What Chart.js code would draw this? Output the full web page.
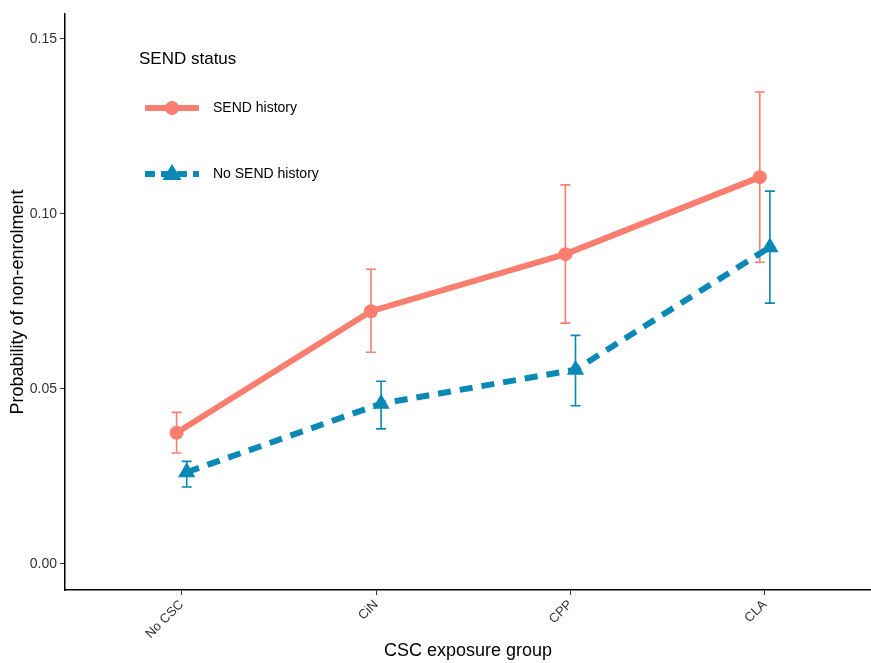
<!DOCTYPE html>
<html>
<head>
<meta charset="utf-8">
<script src="https://cdn.jsdelivr.net/npm/chart.js@4"></script>
<style>
  html, body { margin: 0; padding: 0; background: #fff; }
  #wrap { width: 871px; height: 663px; }
</style>
</head>
<body>
<div id="wrap"><canvas id="chart" width="871" height="663"></canvas></div>
<script>
const groups = ['No CSC', 'CiN', 'CPP', 'CLA'];

// SEND history: estimate + 95% CI
const sendMean = [0.0375, 0.0722, 0.0885, 0.1105];
const sendLow  = [0.0317, 0.0605, 0.0688, 0.0862];
const sendHigh = [0.0433, 0.0842, 0.1083, 0.1348];

// No SEND history
const noSendMean = [0.0262, 0.0458, 0.0555, 0.0905];
const noSendLow  = [0.0220, 0.0386, 0.0452, 0.0745];
const noSendHigh = [0.0293, 0.0522, 0.0653, 0.1065];

const yTicks = [0, 0.05, 0.10, 0.15];

const pink = '#FA7E70';
const blue = '#0A88B6';
const dodge = 0.026;
const font = 'Arial, "Liberation Sans", sans-serif';

const toPoints = (vals, off) => vals.map((v, i) => ({ x: i + off, y: v }));

// error bars drawn with the chart scales
const errorBars = {
  id: 'errorBars',
  beforeDatasetsDraw(chart) {
    const { ctx, scales: { x, y } } = chart;
    const sets = [
      { low: sendLow, high: sendHigh, off: -dodge, color: pink },
      { low: noSendLow, high: noSendHigh, off: dodge, color: blue },
    ];
    ctx.save();
    ctx.lineWidth = 1.6;
    sets.forEach(s => {
      ctx.strokeStyle = s.color;
      s.low.forEach((lo, i) => {
        const px = x.getPixelForValue(i + s.off);
        const y1 = y.getPixelForValue(lo);
        const y2 = y.getPixelForValue(s.high[i]);
        ctx.beginPath();
        ctx.moveTo(px, y1); ctx.lineTo(px, y2);
        ctx.moveTo(px - 5, y1); ctx.lineTo(px + 5, y1);
        ctx.moveTo(px - 5, y2); ctx.lineTo(px + 5, y2);
        ctx.stroke();
      });
    });
    ctx.restore();
  }
};

// ggplot style legend inside the panel
const panelLegend = {
  id: 'panelLegend',
  afterDraw(chart) {
    const ctx = chart.ctx;
    ctx.save();
    ctx.fillStyle = '#000';
    ctx.font = '17px ' + font;
    ctx.textBaseline = 'middle';
    ctx.fillText('SEND status', 139, 59);

    ctx.font = '14px ' + font;
    // SEND history
    ctx.strokeStyle = pink;
    ctx.lineWidth = 6;
    ctx.beginPath(); ctx.moveTo(145, 108); ctx.lineTo(199, 108); ctx.stroke();
    ctx.fillStyle = pink;
    ctx.beginPath(); ctx.arc(172, 108, 7, 0, Math.PI * 2); ctx.fill();
    ctx.fillStyle = '#000';
    ctx.fillText('SEND history', 213, 108);

    // No SEND history
    ctx.strokeStyle = blue;
    ctx.lineWidth = 6;
    ctx.setLineDash([10, 6]);
    ctx.beginPath(); ctx.moveTo(145, 174); ctx.lineTo(199, 174); ctx.stroke();
    ctx.setLineDash([]);
    ctx.fillStyle = blue;
    ctx.beginPath();
    ctx.moveTo(172, 164); ctx.lineTo(181.5, 180); ctx.lineTo(162.5, 180); ctx.closePath();
    ctx.fill();
    ctx.fillStyle = '#000';
    ctx.fillText('No SEND history', 213, 174);
    ctx.restore();
  }
};

new Chart(document.getElementById('chart'), {
  type: 'line',
  data: {
    datasets: [
      {
        label: 'SEND history',
        data: toPoints(sendMean, -dodge),
        borderColor: pink,
        backgroundColor: pink,
        borderWidth: 6,
        pointStyle: 'circle',
        pointRadius: 7,
        pointBorderWidth: 0,
        pointHoverRadius: 7,
      },
      {
        label: 'No SEND history',
        data: toPoints(noSendMean, dodge),
        borderColor: blue,
        backgroundColor: blue,
        borderWidth: 6,
        borderDash: [13, 9],
        pointStyle: 'triangle',
        pointRadius: 10,
        pointBorderWidth: 0,
        pointHoverRadius: 10,
      },
    ],
  },
  options: {
    responsive: false,
    animation: false,
    layout: { autoPadding: false, padding: { top: 14, right: 0, left: 0, bottom: 0 } },
    plugins: {
      legend: { display: false },
      tooltip: { enabled: false },
    },
    scales: {
      x: {
        type: 'linear',
        min: -0.6,
        max: 3.546,
        afterFit: (s) => { s.height = 73; s.paddingLeft = 0; s.paddingRight = 0; },
        afterBuildTicks: (s) => { s.ticks = groups.map((g, i) => ({ value: i })); },
        ticks: {
          callback: (v) => groups[v],
          minRotation: 45,
          maxRotation: 45,
          color: '#333',
          padding: 2,
          font: { size: 13, family: font },
        },
        grid: { drawOnChartArea: false, drawTicks: true, tickLength: 5, color: '#333' },
        border: { display: true, color: '#000', width: 1.5 },
        title: {
          display: true,
          text: 'CSC exposure group',
          color: '#000',
          padding: { top: 0, bottom: 1 },
          font: { size: 18, family: font },
        },
      },
      y: {
        min: -0.00743,
        max: 0.1571,
        afterFit: (s) => { s.width = 65; },
        afterBuildTicks: (s) => { s.ticks = yTicks.map(v => ({ value: v })); },
        ticks: {
          callback: (v) => v.toFixed(2),
          color: '#333',
          padding: 3,
          font: { size: 14, family: font },
        },
        grid: { drawOnChartArea: false, drawTicks: true, tickLength: 5, color: '#333' },
        border: { display: true, color: '#000', width: 1.5 },
        title: {
          display: true,
          text: 'Probability of non-enrolment',
          color: '#000',
          padding: { top: 7, bottom: 0 },
          font: { size: 18, family: font },
        },
      },
    },
  },
  plugins: [errorBars, panelLegend],
});
</script>
</body>
</html>
